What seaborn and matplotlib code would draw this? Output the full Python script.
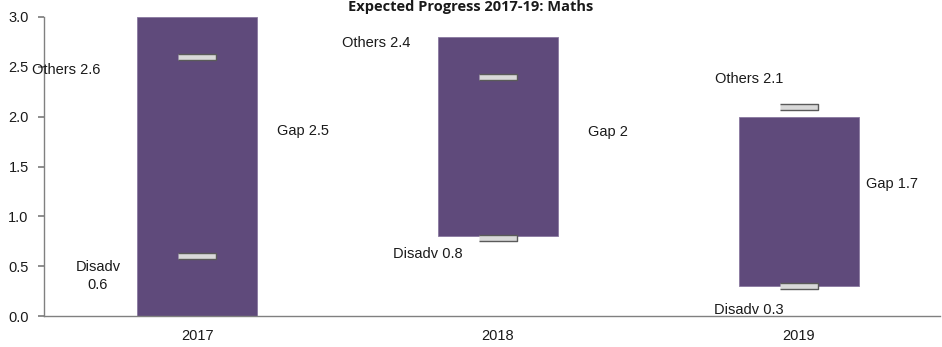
import numpy as np
import pandas as pd
import matplotlib
matplotlib.use("Agg")
import matplotlib.pyplot as plt
import seaborn as sns

# ---- data ----
years = ["2017", "2018", "2019"]
bar_bottom = [0.0, 0.8, 0.3]
bar_top = [3.0, 2.8, 2.0]
others = [2.6, 2.4, 2.1]
disadv = [0.6, 0.78, 0.3]
gap_labels = ["Gap 2.5", "Gap 2", "Gap 1.7"]
others_labels = ["Others 2.6", "Others 2.4", "Others 2.1"]
disadv_labels = ["Disadv\n0.6", "Disadv 0.8", "Disadv 0.3"]
title = "Expected Progress 2017-19: Maths"

sns.set_theme(style="white")
plt.rcParams["font.family"] = ["Liberation Sans", "DejaVu Sans"]

fig = plt.figure(figsize=(9.42, 3.47), dpi=100)
ax = fig.add_axes([44/942, 1-316/347, (940-44)/942, (316-17)/347])

df = pd.DataFrame({"year": years,
                   "height": np.array(bar_top) - np.array(bar_bottom),
                   "bottom": bar_bottom,
                   "others": others, "disadv": disadv})

sns.barplot(data=df, x="year", y="height", bottom=np.array(bar_bottom),
            color="#5f4a7b", saturation=1, width=0.40,
            edgecolor="#8a78a0", linewidth=0.6, ax=ax, errorbar=None)

rect = [(-1, -0.17), (1, -0.17), (1, 0.17), (-1, 0.17)]
for col in ["others", "disadv"]:
    sns.scatterplot(data=df, x="year", y=col, marker=rect, s=760,
                    color="#d9d9d9", edgecolor="#5a5a5a", linewidth=1.0,
                    ax=ax, zorder=5, legend=False)

ax.set_ylim(0, 3.0)
ax.set_xlim(-0.51, 2.47)
ax.set_yticks(np.arange(0, 3.01, 0.5))
ax.set_yticklabels([f"{v:.1f}" for v in np.arange(0, 3.01, 0.5)])
ax.set_xlabel("")
ax.set_ylabel("")
for s in ["top", "right"]:
    ax.spines[s].set_visible(False)
for s in ["left", "bottom"]:
    ax.spines[s].set_color("#808080")
    ax.spines[s].set_linewidth(1.0)
ax.tick_params(axis="y", left=True, length=4, color="#808080",
               labelsize=10.5, labelcolor="#1a1a1a", pad=7)
ax.tick_params(axis="x", bottom=False, labelsize=10.5, labelcolor="#1a1a1a", pad=3)

fs = 10.5
txt = dict(fontsize=fs, color="#1a1a1a", ha="center", va="center")
# label positions (category units, data units)
others_pos = [(-0.437, 2.47), (0.596, 2.74), (1.834, 2.38)]
gap_pos = [(0.351, 1.86), (1.364, 1.85), (2.311, 1.32)]
disadv_pos = [(-0.331, 0.40), (0.765, 0.62), (1.834, 0.06)]
for i in range(3):
    ax.text(*others_pos[i], others_labels[i], clip_on=False, **txt)
    ax.text(*gap_pos[i], gap_labels[i], clip_on=False, **txt)
    ax.text(*disadv_pos[i], disadv_labels[i], clip_on=False, linespacing=1.3, **txt)

fig.text(0.5, 1.0, title, ha="center", va="top",
         fontsize=10.5, fontweight="bold", color="#1a1a1a",
         family=["Open Sans", "DejaVu Sans"])

fig.savefig("out.png", dpi=100)
